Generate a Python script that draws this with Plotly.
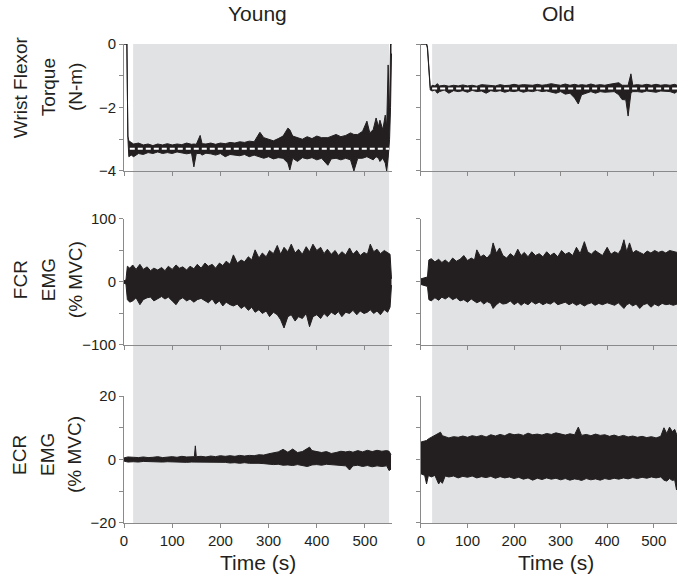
import plotly.graph_objects as go
from plotly.subplots import make_subplots

# colours
INK = "#231f20"
AXIS = "#8a8a8a"
SHADE = "#e1e2e4"

### Données (enveloppes haute / basse des signaux)
# Couple de flexion du poignet - Young
ty_torque = [0, 6, 8, 10, 15, 20, 30, 40, 50, 60, 70, 80, 90, 100, 110, 120, 130, 140, 145, 150,
             158, 162, 170, 180, 190, 200, 210, 220, 230, 240, 250, 260, 270, 282, 290, 300, 310, 320, 330, 340,
             344, 350, 360, 370, 380, 390, 400, 410, 423, 430, 440, 450, 460, 470, 477, 485, 495, 504, 510, 517,
             523, 528, 531, 537, 542, 545, 548, 551, 553, 555]
young_torque_hi = [0, 0, -2.9, -3.05, -3.1, -3.15, -3.12, -3.18, -3.15, -3.2, -3.15, -3.18, -3.14, -3.18, -3.15, -3.17, -3.12, -3.16, -3.15, -3.16,
                   -2.88, -3.14, -3.15, -3.12, -3.16, -3.12, -3.14, -3.1, -3.12, -3.08, -3.1, -3.06, -3.08, -2.78, -2.95, -3.0, -3.05, -2.98, -2.9, -2.65,
                   -2.7, -2.9, -2.95, -3.0, -2.92, -2.98, -2.9, -2.95, -2.95, -2.9, -2.85, -2.92, -2.88, -2.8, -2.85, -2.85, -2.75, -2.43, -2.8, -2.7,
                   -2.33, -2.6, -2.4, -2.7, -2.24, -2.6, -0.66, -2.3, 0, 0]
young_torque_lo = [0, 0, -2.95, -3.55, -3.5, -3.55, -3.45, -3.48, -3.42, -3.45, -3.4, -3.45, -3.42, -3.45, -3.4, -3.44, -3.46, -3.43, -3.87, -3.45,
                   -3.45, -3.5, -3.44, -3.46, -3.5, -3.45, -3.55, -3.48, -3.5, -3.52, -3.48, -3.55, -3.5, -3.55, -3.6, -3.55, -3.62, -3.58, -3.6, -3.75,
                   -3.97, -3.6, -3.7, -3.58, -3.62, -3.58, -3.65, -3.6, -3.82, -3.62, -3.6, -3.65, -3.6, -3.65, -4.0, -3.6, -3.6, -3.55, -3.6, -3.65,
                   -3.55, -3.6, -3.7, -3.6, -3.75, -4.0, -3.6, -3.0, -2.0, -0.3]
young_target = -3.3
young_target_t = [12, 550]

# Couple de flexion du poignet - Old
to_torque = [0, 12, 14, 20, 24, 30, 35, 40, 50, 60, 70, 80, 90, 100, 110, 120, 130, 140, 150, 160,
             170, 180, 190, 200, 210, 220, 230, 240, 250, 260, 270, 280, 290, 300, 310, 320, 330, 338, 345, 355,
             365, 375, 385, 395, 405, 415, 425, 432, 440, 445, 451, 455, 465, 475, 485, 495, 505, 515, 525, 535,
             545, 550]
old_torque_hi = [0, 0, -0.1, -1.38, -1.3, -1.32, -1.25, -1.32, -1.3, -1.33, -1.3, -1.32, -1.29, -1.32, -1.3, -1.33, -1.28, -1.3, -1.3, -1.32,
                 -1.28, -1.31, -1.3, -1.27, -1.3, -1.28, -1.29, -1.3, -1.27, -1.3, -1.28, -1.25, -1.28, -1.3, -1.26, -1.3, -1.27, -1.3, -1.28, -1.3,
                 -1.26, -1.3, -1.28, -1.3, -1.27, -1.25, -1.22, -1.3, -1.3, -1.3, -0.94, -1.3, -1.28, -1.3, -1.27, -1.3, -1.27, -1.3, -1.28, -1.3,
                 -1.27, -1.3]
old_torque_lo = [0, 0, -0.15, -1.45, -1.48, -1.45, -1.55, -1.5, -1.45, -1.55, -1.47, -1.5, -1.47, -1.52, -1.46, -1.5, -1.48, -1.55, -1.47, -1.5,
                 -1.47, -1.52, -1.48, -1.5, -1.47, -1.52, -1.48, -1.5, -1.46, -1.5, -1.48, -1.52, -1.55, -1.5, -1.58, -1.55, -1.7, -1.89, -1.6, -1.55,
                 -1.5, -1.55, -1.5, -1.52, -1.5, -1.5, -1.6, -1.75, -1.76, -2.27, -1.55, -1.5, -1.5, -1.52, -1.48, -1.5, -1.52, -1.48, -1.5, -1.5,
                 -1.55, -1.5]
old_target = -1.4
old_target_t = [24, 550]

# FCR EMG - Young
ty_fcr = [0, 4, 7, 12, 18, 25, 33, 40, 48, 55, 62, 70, 78, 85, 92, 100, 108, 115, 122, 130,
          137, 145, 152, 160, 168, 175, 183, 190, 198, 205, 212, 220, 227, 235, 243, 250, 258, 265, 272, 280,
          287, 295, 302, 310, 318, 325, 332, 340, 347, 355, 362, 370, 378, 385, 392, 400, 408, 415, 422, 430,
          438, 445, 452, 460, 468, 475, 483, 490, 498, 505, 511, 518, 525, 532, 540, 547, 552, 555]
young_fcr_hi = [2, 3, 25, 22, 27, 20, 28, 20, 24, 18, 22, 19, 23, 18, 25, 20, 27, 22, 24, 19,
                25, 21, 28, 22, 30, 25, 28, 22, 30, 26, 33, 28, 43, 30, 35, 32, 40, 35, 51, 38,
                46, 40, 50, 45, 58, 44, 55, 48, 60, 46, 52, 44, 56, 48, 60, 50, 55, 45, 52, 44,
                50, 42, 48, 43, 54, 44, 50, 42, 47, 44, 60, 48, 52, 45, 50, 46, 44, 5]
young_fcr_lo = [-2, -3, -28, -32, -30, -25, -36, -28, -25, -24, -30, -26, -23, -27, -24, -30, -36, -28, -25, -30,
                -27, -32, -28, -26, -30, -33, -27, -35, -30, -38, -32, -36, -38, -35, -42, -38, -45, -40, -48, -44,
                -50, -46, -55, -48, -52, -60, -73, -55, -52, -62, -55, -58, -50, -71, -55, -52, -58, -50, -55, -48,
                -52, -47, -55, -48, -50, -45, -52, -46, -50, -48, -44, -50, -46, -52, -44, -48, -40, -5]

# FCR EMG - Old
to_fcr = [0, 8, 14, 17, 22, 30, 38, 45, 52, 60, 68, 76, 84, 92, 100, 108, 115, 120, 128, 135,
          142, 150, 155, 162, 169, 176, 184, 192, 200, 208, 215, 222, 230, 238, 246, 254, 262, 270, 278, 286,
          294, 302, 310, 318, 326, 334, 342, 351, 358, 366, 374, 382, 390, 400, 408, 416, 424, 430, 436, 442,
          448, 455, 462, 470, 478, 486, 494, 502, 510, 518, 526, 534, 542, 550]
old_fcr_hi = [5, 7, 8, 35, 37, 32, 36, 31, 35, 30, 38, 33, 36, 42, 34, 38, 35, 51, 40, 43,
              38, 45, 62, 46, 54, 42, 38, 45, 40, 52, 42, 47, 40, 48, 42, 45, 40, 48, 42, 46,
              40, 50, 44, 47, 42, 55, 45, 64, 48, 44, 50, 46, 42, 55, 44, 48, 45, 52, 67, 48,
              62, 46, 50, 47, 44, 49, 46, 50, 47, 49, 46, 50, 48, 47]
old_fcr_lo = [-4, -6, -7, -28, -30, -25, -29, -24, -27, -23, -28, -25, -30, -28, -32, -27, -30, -33, -30, -35,
              -31, -34, -42, -36, -32, -35, -34, -30, -36, -32, -37, -33, -36, -31, -35, -32, -36, -33, -35, -31,
              -36, -34, -32, -36, -33, -37, -34, -38, -35, -33, -37, -34, -36, -33, -35, -37, -33, -38, -42, -36,
              -34, -38, -35, -42, -36, -34, -40, -35, -38, -34, -36, -35, -37, -35]

# ECR EMG - Young
ty_ecr = [0, 6, 8, 20, 30, 40, 50, 60, 70, 80, 90, 100, 110, 120, 130, 140, 146, 148, 150, 160,
          170, 180, 190, 200, 210, 220, 230, 240, 250, 260, 270, 280, 290, 300, 310, 320, 330, 340, 350, 360,
          370, 380, 385, 390, 400, 410, 420, 430, 440, 450, 460, 468, 475, 485, 495, 505, 515, 525, 535, 545,
          550, 554]
young_ecr_hi = [0.5, 0.6, 0.8, 0.7, 0.6, 0.8, 0.6, 0.7, 0.9, 0.6, 0.8, 0.9, 0.7, 1.0, 0.8, 0.9, 0.9, 4.3, 0.9, 1.0,
                0.8, 1.1, 0.9, 1.2, 1.0, 1.2, 1.0, 1.3, 1.1, 1.3, 1.2, 1.5, 1.4, 1.8, 2.0, 2.4, 3.2, 2.3, 3.3, 2.2,
                2.5, 3.6, 3.9, 2.8, 2.4, 2.2, 2.5, 1.9, 2.2, 2.6, 2.4, 2.6, 2.3, 2.8, 2.4, 2.9, 2.5, 2.9, 2.6, 2.8,
                2.6, 1.5]
young_ecr_lo = [-0.5, -0.6, -0.8, -0.7, -0.8, -0.6, -0.7, -0.8, -0.7, -0.8, -0.7, -0.8, -0.9, -0.8, -0.9, -0.8, -0.8, -0.8, -0.9, -0.8,
                -1.0, -0.9, -1.0, -1.0, -0.9, -1.1, -1.0, -1.2, -1.0, -1.2, -1.1, -1.2, -1.3, -1.5, -1.6, -1.5, -1.8, -1.7, -1.9, -1.6,
                -1.8, -2.2, -2.0, -1.7, -1.6, -1.8, -1.5, -1.6, -1.7, -1.8, -2.0, -3.3, -2.0, -1.8, -2.2, -1.9, -2.3, -2.0, -2.2, -2.0,
                -3.5, -3.0]

# ECR EMG - Old
to_ecr = [0, 8, 12, 16, 22, 30, 38, 42, 46, 52, 60, 70, 80, 90, 100, 110, 120, 130, 140, 150,
          160, 170, 180, 190, 200, 210, 220, 230, 240, 250, 260, 270, 280, 290, 300, 310, 320, 330, 338, 345,
          355, 365, 375, 385, 395, 405, 415, 425, 435, 445, 455, 465, 475, 485, 495, 505, 515, 522, 528, 534,
          540, 545, 549, 552]
old_ecr_hi = [5.5, 5.8, 6.0, 6.5, 7.0, 7.5, 8.1, 8.6, 7.5, 7.2, 6.8, 7.2, 7.0, 7.4, 7.0, 7.5, 7.2, 7.6, 7.1, 7.8,
              7.4, 7.9, 7.5, 8.2, 7.8, 8.0, 7.6, 8.3, 7.8, 8.0, 7.7, 8.2, 7.9, 8.4, 8.0, 7.7, 8.1, 7.8, 10.2, 7.6,
              7.9, 7.5, 8.0, 7.6, 7.8, 7.3, 7.7, 7.2, 7.6, 7.1, 7.4, 7.0, 7.3, 6.9, 7.2, 6.8, 7.3, 10.0, 8.2, 10.2,
              8.8, 9.5, 8.0, 7.5]
old_ecr_lo = [-4.5, -5.0, -7.7, -5.0, -5.5, -5.0, -7.7, -6.8, -7.5, -5.2, -5.5, -5.2, -5.8, -5.3, -5.6, -5.2, -5.8, -5.4, -5.7, -5.3,
              -5.9, -5.4, -5.8, -5.5, -6.0, -5.6, -6.2, -5.8, -6.5, -5.9, -6.3, -5.8, -6.2, -5.9, -6.4, -6.0, -6.5, -6.1, -6.3, -6.6,
              -6.0, -6.4, -6.1, -6.5, -6.0, -6.3, -5.9, -6.2, -5.8, -6.1, -5.7, -6.0, -5.6, -5.9, -5.5, -5.8, -5.5, -6.5, -6.8, -6.0,
              -6.6, -6.4, -9.6, -6.0]

# zone grisée (période de contraction)
young_shade = [19, 550]
old_shade = [24, 550]

time_ticks = [0, 100, 200, 300, 400, 500]
row_ticks = [[-4, -3, -2, -1, 0], [-100, -50, 0, 50, 100], [-20, -10, 0, 10, 20]]
row_ticktext = [["−4", "", "−2", "", "0"], ["−100", "", "0", "", "100"], ["−20", "", "0", "", "20"]]
row_ranges = [[-4, 0], [-100, 100], [-20, 20]]
row_titles = [["Wrist Flexor", "Torque", "(N-m)"], ["FCR", "EMG", "(% MVC)"], ["ECR", "EMG", "(% MVC)"]]
col_titles = ["Young", "Old"]


fig = make_subplots(rows=3, cols=2)


def band(t, hi, lo, row, col):
    fig.add_trace(go.Scatter(x=t, y=lo, mode="lines", line=dict(color=INK, width=1),
                             hoverinfo="skip"), row=row, col=col)
    fig.add_trace(go.Scatter(x=t, y=hi, mode="lines", line=dict(color=INK, width=1),
                             fill="tonexty", fillcolor=INK, hoverinfo="skip"), row=row, col=col)


band(ty_torque, young_torque_hi, young_torque_lo, 1, 1)
band(to_torque, old_torque_hi, old_torque_lo, 1, 2)
band(ty_fcr, young_fcr_hi, young_fcr_lo, 2, 1)
band(to_fcr, old_fcr_hi, old_fcr_lo, 2, 2)
band(ty_ecr, young_ecr_hi, young_ecr_lo, 3, 1)
band(to_ecr, old_ecr_hi, old_ecr_lo, 3, 2)

# ligne cible en pointillés blancs
fig.add_trace(go.Scatter(x=young_target_t, y=[young_target] * 2, mode="lines",
                         line=dict(color="white", width=2, dash="5px,3px")), row=1, col=1)
fig.add_trace(go.Scatter(x=old_target_t, y=[old_target] * 2, mode="lines",
                         line=dict(color="white", width=2, dash="5px,3px")), row=1, col=2)

col_domains = [[0, 0.4846], [0.537, 1.0]]
row_domains = [[0.7349, 1.0], [0.3716, 0.6347], [0.0, 0.2651]]
col_ranges = [[0, 556], [0, 550]]

for r in range(3):
    for c in range(2):
        fig.update_xaxes(domain=col_domains[c], range=col_ranges[c], tickvals=time_ticks,
                         showticklabels=(r == 2), row=r + 1, col=c + 1)
        fig.update_yaxes(domain=row_domains[r], range=row_ranges[r], tickvals=row_ticks[r],
                         ticktext=row_ticktext[r], showticklabels=(c == 0), row=r + 1, col=c + 1)

fig.update_xaxes(showline=True, linecolor=AXIS, linewidth=1, ticks="outside", ticklen=4,
                 tickcolor=AXIS, showgrid=False, zeroline=False, tickfont=dict(size=15, color=INK))
fig.update_yaxes(showline=True, linecolor=AXIS, linewidth=1, ticks="outside", ticklen=4,
                 tickcolor=AXIS, showgrid=False, zeroline=False, tickfont=dict(size=15, color=INK))

# zones grisées sur toute la hauteur de chaque colonne
fig.add_shape(type="rect", xref="x", yref="paper", x0=young_shade[0], x1=young_shade[1], y0=0, y1=1,
              fillcolor=SHADE, line_width=0, layer="below")
fig.add_shape(type="rect", xref="x2", yref="paper", x0=old_shade[0], x1=old_shade[1], y0=0, y1=1,
              fillcolor=SHADE, line_width=0, layer="below")

ann = []
for txt, x in zip(col_titles, [0.2423, 0.785]):
    ann.append(dict(text=txt, x=x, y=1.063, xref="paper", yref="paper", showarrow=False,
                    xanchor="center", yanchor="middle", font=dict(size=21, color=INK)))
for x in [0.2423, 0.781]:
    ann.append(dict(text="Time (s)", x=x, y=-0.082, xref="paper", yref="paper", showarrow=False,
                    xanchor="center", yanchor="middle", font=dict(size=21, color=INK)))
# titres des lignes, une annotation par ligne de texte
for lines, y in zip(row_titles, [0.91, 0.507, 0.142]):
    for txt, x in zip(lines, [-0.188, -0.1374, -0.0886]):
        ann.append(dict(text=txt, x=x, y=y, xref="paper", yref="paper", showarrow=False,
                        xanchor="center", yanchor="middle", textangle=-90,
                        font=dict(size=19, color=INK)))

fig.update_layout(width=677, height=574, margin=dict(l=124, r=0, t=44, b=51),
                  plot_bgcolor="white", paper_bgcolor="white", showlegend=False,
                  font=dict(family="Liberation Sans, Arial, sans-serif", color=INK),
                  annotations=ann)

fig.write_html("out.html", config={"displayModeBar": False},
               post_script="document.body.style.margin='0';")
